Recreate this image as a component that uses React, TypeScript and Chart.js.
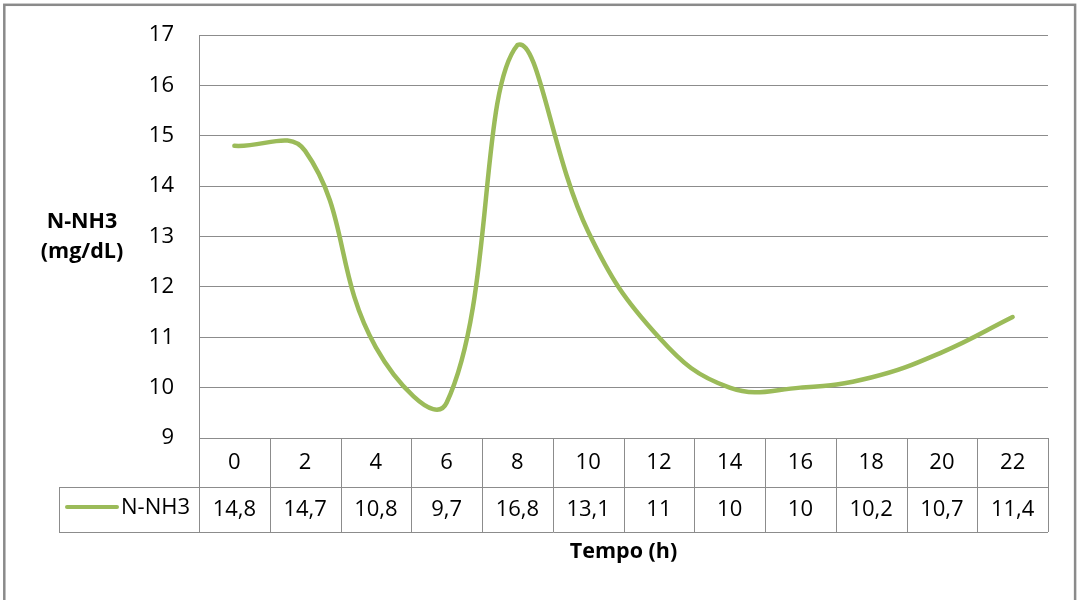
import React, { useEffect, useRef } from "react";
import { Chart, registerables } from "chart.js";

Chart.register(...registerables);

const categories = ["0", "2", "4", "6", "8", "10", "12", "14", "16", "18", "20", "22"];
const seriesName = "N-NH3";
const nNH3 = [14.8, 14.7, 10.8, 9.7, 16.8, 13.1, 11, 10, 10, 10.2, 10.7, 11.4];
const yMin = 9;
const yMax = 17;
const yTitleLines = ["N-NH3", "(mg/dL)"];
const xTitle = "Tempo (h)";

const GREEN = "#9bbb59";
const GRID = "#8c8c8c";
const FONT = "'Open Sans', 'Noto Sans', sans-serif";

const fmt = (v: number) => String(v).replace(".", ",");

const tablePlugin = {
  id: "tablePlugin",
  beforeDraw(chart: any) {
    const ctx = chart.ctx;
    ctx.save();
    ctx.fillStyle = "#ffffff";
    ctx.fillRect(0, 0, chart.width, chart.height);
    ctx.strokeStyle = "#8a8a8a";
    ctx.lineWidth = 2.5;
    ctx.strokeRect(4.3, 4.8, 1070.8, 700);
    ctx.restore();
  },
  afterDraw(chart: any) {
    const ctx = chart.ctx;
    const a = chart.chartArea;
    const xs = chart.scales.x;
    const n = categories.length;
    const colW = (a.right - a.left) / n;
    const r1 = a.bottom + 49;
    const r2 = a.bottom + 94;
    const legendLeft = 59;
    ctx.save();
    ctx.strokeStyle = GRID;
    ctx.lineWidth = 1;
    ctx.beginPath();
    ctx.moveTo(a.left, a.bottom + 0.5);
    ctx.lineTo(a.right, a.bottom + 0.5);
    ctx.moveTo(legendLeft, Math.round(r1) + 0.5);
    ctx.lineTo(a.right, Math.round(r1) + 0.5);
    ctx.moveTo(legendLeft, Math.round(r2) + 0.5);
    ctx.lineTo(a.right, Math.round(r2) + 0.5);
    for (let i = 0; i <= n; i++) {
      const x = Math.round(a.left + i * colW) + 0.5;
      ctx.moveTo(x, a.bottom);
      ctx.lineTo(x, r2);
    }
    ctx.moveTo(legendLeft + 0.5, r1);
    ctx.lineTo(legendLeft + 0.5, r2);
    ctx.stroke();

    ctx.fillStyle = "#000";
    ctx.textAlign = "center";
    ctx.textBaseline = "middle";
    ctx.font = `22px ${FONT}`;
    for (let i = 0; i < n; i++) {
      const x = xs.getPixelForValue(i);
      ctx.fillText(categories[i], x, a.bottom + 25);
      ctx.fillText(fmt(nNH3[i]), x, r1 + 23);
    }
    ctx.strokeStyle = GREEN;
    ctx.lineWidth = 4;
    ctx.lineCap = "round";
    ctx.beginPath();
    ctx.moveTo(67, r1 + 20);
    ctx.lineTo(117, r1 + 20);
    ctx.stroke();
    ctx.textAlign = "left";
    ctx.fillText(seriesName, 121, r1 + 21);

    ctx.font = `bold 21.5px ${FONT}`;
    ctx.textAlign = "center";
    ctx.fillText(yTitleLines[0], 82, 222);
    ctx.fillText(yTitleLines[1], 82, 252);
    ctx.fillText(xTitle, (a.left + a.right) / 2, 552);
    ctx.restore();
  },
};

export default function App() {
  const ref = useRef<HTMLCanvasElement>(null);
  useEffect(() => {
    if (!ref.current) return;
    const chart = new Chart(ref.current, {
      type: "line",
      data: {
        labels: categories,
        datasets: [
          {
            label: seriesName,
            data: nNH3,
            borderColor: GREEN,
            borderWidth: 4.5,
            pointRadius: 0,
            tension: 0.42,
            fill: false,
            borderCapStyle: "round",
          },
        ],
      },
      options: {
        responsive: false,
        animation: false,
        devicePixelRatio: 1,
        layout: { padding: { left: 0, top: 35, right: 31, bottom: 162 } },
        plugins: { legend: { display: false }, tooltip: { enabled: false } },
        scales: {
          x: {
            display: false,
            offset: true,
          },
          y: {
            min: yMin,
            max: yMax,
            afterFit: (s: any) => {
              s.width = 199;
              s.paddingTop = 0;
              s.paddingBottom = 0;
            },
            ticks: {
              stepSize: 1,
              padding: 25,
              color: "#000",
              font: { family: FONT, size: 22 },
            },
            grid: { color: GRID, drawTicks: false, lineWidth: 1 },
            border: { display: true, color: GRID, width: 1 },
          },
        },
      },
      plugins: [tablePlugin],
    } as any);
    return () => chart.destroy();
  }, []);
  return (
    <div style={{ position: "absolute", left: 0, top: 0, width: 1079, height: 600 }}>
      <canvas ref={ref} width={1079} height={600} />
    </div>
  );
}
